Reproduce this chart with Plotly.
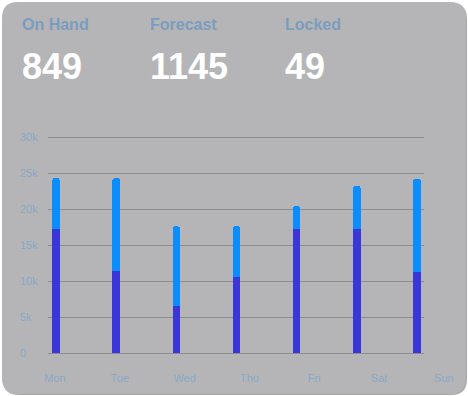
import plotly.graph_objects as go

days = ["Mon", "Tue", "Wed", "Thu", "Fri", "Sat", "Sun"]
bar_days = [0, 1, 2, 3, 4, 5, 6]
locked_part = [17200, 11400, 6500, 10500, 17200, 17200, 11300]
forecast_part = [7100, 12900, 11100, 7100, 3200, 6000, 12900]
y_ticks = [0, 5000, 10000, 15000, 20000, 25000, 30000]
y_tick_text = ["0", "5k", "10k", "15k", "20k", "25k", "30k"]
kpi_labels = ["On Hand", "Forecast", "Locked"]
kpi_values = ["849", "1145", "49"]
kpi_x = [22, 150, 285]

W, H = 468, 396
LIGHT = "#0a8dff"
DARK = "#3b36da"
CARD = "#b5b5b7"
LABEL = "#7b9dbe"
TICK = "#8aa8c6"
GRID = "#8d8d91"

fig = go.Figure()
fig.add_trace(go.Bar(x=bar_days, y=locked_part, marker_color=DARK, width=0.125,
                     marker_line_width=0, xaxis="x", yaxis="y"))
fig.add_trace(go.Bar(x=bar_days, y=forecast_part, marker_color=LIGHT, width=0.125,
                     marker_line_width=0, xaxis="x", yaxis="y"))
fig.add_trace(go.Scatter(x=list(range(len(days))), y=[None] * len(days), xaxis="x2", yaxis="y2",
                         mode="markers", showlegend=False, hoverinfo="skip"))

def px(v):
    return v / W

def py(v):
    return 1 - v / H

PAD = 1400  # extra data units beyond 0..30k so edge gridlines / labels are drawn
ppu = 216 / 30000
y_bot = py(353 + PAD * ppu)
y_top = py(137 - PAD * ppu)

def card_path(x0, x1, yt, yb, r):
    def P(x, y):
        return f"{px(x)},{py(y)}"
    return (f"M {P(x0+r, yt)} L {P(x1-r, yt)} Q {P(x1, yt)} {P(x1, yt+r)} "
            f"L {P(x1, yb-r)} Q {P(x1, yb)} {P(x1-r, yb)} L {P(x0+r, yb)} "
            f"Q {P(x0, yb)} {P(x0, yb-r)} L {P(x0, yt+r)} Q {P(x0, yt)} {P(x0+r, yt)} Z")

shapes = [
    dict(type="path", xref="paper", yref="paper", path=card_path(3, 467, 3, 395, 16),
         fillcolor="#a8a8aa", line_width=0, layer="below"),
    dict(type="path", xref="paper", yref="paper", path=card_path(2, 466, 2, 394, 16),
         fillcolor=CARD, line_width=0, layer="below"),
]

annotations = []
for lab, val, x in zip(kpi_labels, kpi_values, kpi_x):
    annotations.append(dict(text=f"<b>{lab}</b>", x=px(x - 2), y=py(14), xref="paper", yref="paper",
                            xanchor="left", yanchor="top", showarrow=False,
                            font=dict(family="Liberation Sans, Arial", size=16, color=LABEL)))
    annotations.append(dict(text=f"<b>{val}</b>", x=px(x - 2), y=py(44), xref="paper", yref="paper",
                            xanchor="left", yanchor="top", showarrow=False,
                            font=dict(family="Liberation Sans, Arial", size=36, color="white")))

fig.update_layout(
    width=W, height=H, margin=dict(l=0, r=0, t=0, b=0, pad=0, autoexpand=False),
    paper_bgcolor="white", plot_bgcolor="rgba(0,0,0,0)",
    barmode="stack", barcornerradius=4, showlegend=False,
    shapes=shapes, annotations=annotations,
    xaxis=dict(domain=[px(48), px(424)], range=[-0.133, 6.116], showgrid=False,
               zeroline=False, showticklabels=False, ticks="", fixedrange=True),
    yaxis=dict(domain=[y_bot, y_top], range=[-PAD, 30000 + PAD], tickvals=y_ticks, ticktext=y_tick_text,
               showgrid=True, gridcolor=GRID, gridwidth=1, zeroline=False, showline=False,
               anchor="free", position=px(16), ticklabelposition="inside",
               tickfont=dict(family="Liberation Sans, Arial", size=11, color=TICK),
               fixedrange=True),
    xaxis2=dict(domain=[px(48), px(462)], range=[-0.108, 6.28], anchor="y2",
                tickvals=list(range(len(days))), ticktext=days, showgrid=False, zeroline=False,
                showline=False, ticks="", ticklabelstandoff=17, fixedrange=True,
                tickfont=dict(family="Liberation Sans, Arial", size=11, color=TICK)),
    yaxis2=dict(domain=[py(353), y_top], range=[0, 1], visible=False),
    font=dict(family="Liberation Sans, Arial"),
)

fig.write_html("out.html", config={"displayModeBar": False},
               post_script="document.body.style.margin='0';document.body.style.overflow='hidden';")
